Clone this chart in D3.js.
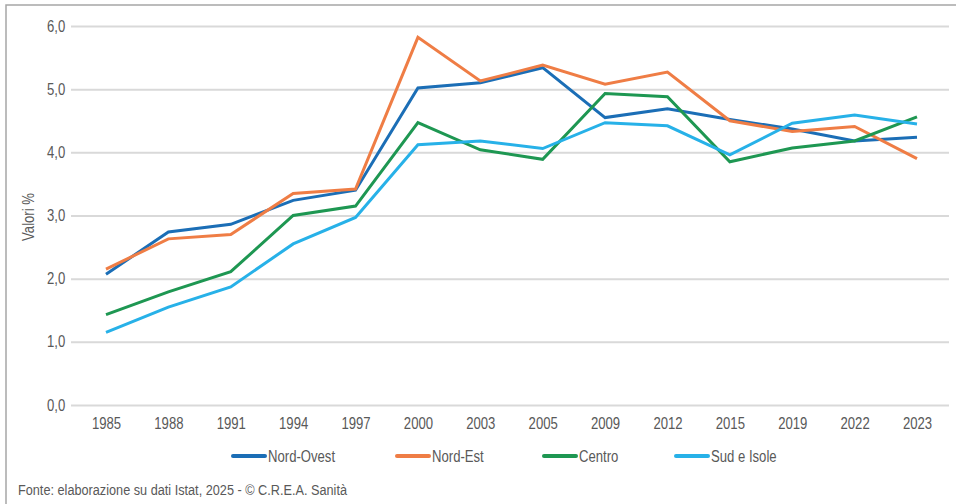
<!DOCTYPE html>
<html>
<head>
<meta charset="utf-8">
<script src="https://cdn.jsdelivr.net/npm/d3@7"></script>
<style>
  html, body { margin: 0; padding: 0; background: #fff; }
  svg { display: block; font-family: "Liberation Sans", Arial, sans-serif; }
  .axis text { fill: #595959; font-size: 16px; }
  .grid line { stroke: #d9d9d9; stroke-width: 2; }
  .line-path { fill: none; stroke-width: 3; stroke-linejoin: miter; }
</style>
</head>
<body>
<div id="line-chart"></div>
<script>
const years = ["1985", "1988", "1991", "1994", "1997", "2000", "2003", "2005", "2009", "2012", "2015", "2019", "2022", "2023"];

const nordOvest = [2.07, 2.74, 2.86, 3.24, 3.40, 5.02, 5.10, 5.34, 4.55, 4.69, 4.52, 4.37, 4.18, 4.24];
const nordEst   = [2.15, 2.63, 2.70, 3.35, 3.42, 5.82, 5.13, 5.38, 5.08, 5.27, 4.50, 4.33, 4.41, 3.90];
const centro    = [1.43, 1.79, 2.11, 3.00, 3.15, 4.47, 4.04, 3.89, 4.93, 4.88, 3.85, 4.07, 4.18, 4.56];
const sudIsole  = [1.15, 1.55, 1.87, 2.55, 2.97, 4.12, 4.18, 4.06, 4.47, 4.42, 3.96, 4.46, 4.59, 4.45];

const seriesNames = ["Nord-Ovest", "Nord-Est", "Centro", "Sud e Isole"];
const seriesColors = ["#1b6eb6", "#ef7d45", "#1e9752", "#27b1e8"];
const yTicks = [0, 1, 2, 3, 4, 5, 6];

const series = [nordOvest, nordEst, centro, sudIsole].map((values, i) => ({
  name: seriesNames[i],
  color: seriesColors[i],
  values: values.map((v, j) => ({ year: years[j], value: v }))
}));

const width = 956;
const height = 504;
// the original uses a narrow font; squeeze Liberation Sans to match it
const narrow = "scale(0.82,1)";

const svg = d3.select("#line-chart")
  .append("svg")
  .attr("width", width)
  .attr("height", height);

// frame: only top and left edges show in the picture
svg.append("rect")
  .attr("x", 6)
  .attr("y", 5)
  .attr("width", 1000)
  .attr("height", 1000)
  .attr("fill", "none")
  .attr("stroke", "#a6a6a6")
  .attr("stroke-width", 1.5);

const gridLeft = 71, gridRight = 949;

const xScale = d3.scalePoint()
  .domain(years)
  .range([106, 917]);

const yScale = d3.scaleLinear()
  .domain([0, 6])
  .range([405, 26]);

const itFormat = d3.formatLocale({ decimal: ",", thousands: ".", grouping: [3], currency: ["€", ""] }).format(".1f");

// y axis with gridlines
const yAxis = svg.append("g")
  .attr("class", "axis grid")
  .attr("transform", `translate(${gridLeft}, 0)`)
  .call(d3.axisLeft(yScale)
    .tickValues(yTicks)
    .tickFormat(itFormat)
    .tickSize(-(gridRight - gridLeft))
    .tickPadding(7));
yAxis.select(".domain").remove();
yAxis.selectAll("text").attr("transform", narrow);

// x axis, labels only
const xAxis = svg.append("g")
  .attr("class", "axis")
  .attr("transform", `translate(0, ${yScale(0)})`)
  .call(d3.axisBottom(xScale).tickSize(0).tickPadding(13));
xAxis.select(".domain").remove();
xAxis.selectAll("text").attr("transform", narrow);

svg.append("text")
  .attr("transform", `translate(34, 217) rotate(-90) ${narrow}`)
  .attr("text-anchor", "middle")
  .style("font-size", "16px")
  .style("fill", "#595959")
  .text("Valori %");

const lineGenerator = d3.line()
  .x(d => xScale(d.year))
  .y(d => yScale(d.value));

svg.selectAll(".line-path")
  .data(series)
  .join("path")
    .attr("class", "line-path")
    .attr("stroke", d => d.color)
    .attr("d", d => lineGenerator(d.values));

// legend
const legendX = [233, 397, 544, 676];
const legend = svg.selectAll(".legend-item")
  .data(series)
  .join("g")
    .attr("class", "legend-item")
    .attr("transform", (d, i) => `translate(${legendX[i]}, 456)`);

legend.append("line")
  .attr("x1", 0)
  .attr("x2", 32)
  .attr("stroke", d => d.color)
  .attr("stroke-width", 4)
  .attr("stroke-linecap", "round");

legend.append("text")
  .attr("transform", `translate(35, 0) ${narrow}`)
  .attr("dy", "0.35em")
  .style("font-size", "16px")
  .style("fill", "#595959")
  .text(d => d.name);

svg.append("text")
  .attr("transform", `translate(18, 495) ${narrow}`)
  .style("font-size", "15.5px")
  .style("fill", "#595959")
  .text("Fonte: elaborazione su dati Istat, 2025 - © C.R.E.A. Sanità");
</script>
</body>
</html>
